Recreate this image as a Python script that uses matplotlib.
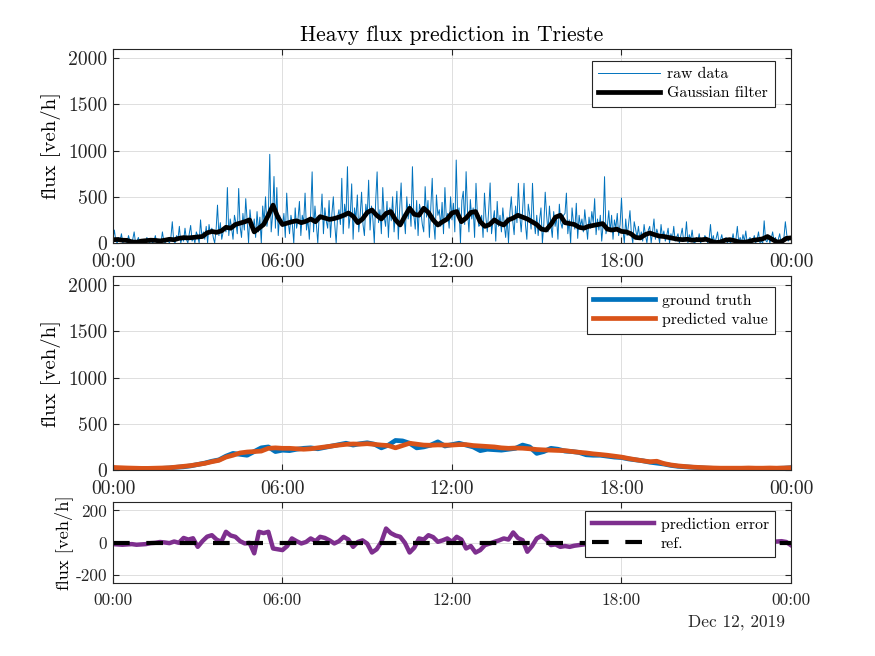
import numpy as np
import pandas as pd
import matplotlib
matplotlib.use("Agg")
import matplotlib.pyplot as plt
import matplotlib.dates as mdates

plt.rcParams.update({
    "font.family": "serif",
    "font.serif": ["cmr10", "DejaVu Serif"],
    "mathtext.fontset": "cm",
    "axes.unicode_minus": False,
    "axes.formatter.use_mathtext": False,
    "xtick.direction": "in",
    "ytick.direction": "in",
    "xtick.top": True,
    "ytick.right": True,
    "axes.edgecolor": "#262626",
    "xtick.color": "#262626",
    "ytick.color": "#262626",
    "axes.linewidth": 0.8,
})

BLUE = "#0072BD"
ORANGE = "#D95319"
PURPLE = "#7E2F8E"

# ---------------------------------------------------------------------------
# data (veh/h)
# ---------------------------------------------------------------------------
day_start = "2019-12-11 00:00"
day_end = "2019-12-12 00:00"

# raw heavy-vehicle flux, 3-minute samples (one row per hour)
raw_flux = [
    40, 140, 20, 0, 60, 20, 100, 0, 40, 20, 0, 80, 20, 0, 40, 120, 0, 20, 60, 0,
    0, 20, 40, 0, 60, 20, 0, 40, 0, 20, 80, 0, 20, 40, 0, 120, 20, 0, 40, 20,
    0, 60, 230, 20, 0, 80, 40, 180, 0, 60, 20, 160, 40, 0, 100, 190, 20, 60, 0, 120,
    80, 0, 250, 60, 120, 40, 180, 0, 200, 100, 160, 60, 0, 140, 410, 80, 220, 40, 120, 180,
    120, 600, 80, 260, 160, 40, 300, 220, 100, 590, 180, 60, 320, 140, 480, 240, 0, 360, 200, 120,
    260, 60, 340, 120, 280, 0, 400, 220, 500, 180, 300, 960, 120, 300, 720, 160, 600, 80, 300, 240,
    180, 320, 60, 540, 240, 100, 300, 200, 0, 380, 160, 260, 450, 80, 300, 220, 540, 140, 260, 40,
    340, 770, 120, 400, 200, 0, 300, 260, 530, 100, 380, 240, 160, 460, 60, 320, 500, 200, 0, 280,
    360, 200, 700, 100, 420, 280, 826, 160, 300, 640, 40, 380, 260, 520, 120, 300, 550, 200, 80, 420,
    300, 680, 140, 400, 260, 0, 460, 770, 220, 360, 100, 600, 280, 180, 450, 60, 380, 240, 500, 120,
    320, 560, 40, 380, 650, 200, 300, 100, 500, 260, 420, 180, 826, 300, 150, 460, 80, 420, 340, 200,
    120, 610, 280, 460, 60, 380, 700, 220, 40, 520, 300, 360, 180, 440, 100, 600, 260, 320, 160, 500,
    250, 430, 120, 898, 300, 380, 0, 460, 560, 200, 772, 340, 120, 470, 260, 380, 60, 646, 300, 180,
    200, 300, 60, 540, 280, 120, 360, 650, 100, 240, 350, 20, 450, 180, 300, 120, 380, 200, 60, 280,
    0, 330, 500, 240, 90, 400, 220, 646, 300, 120, 360, 646, 200, 40, 420, 310, 150, 646, 260, 100,
    300, 80, 250, 380, 0, 200, 550, 300, 120, 400, 200, 60, 340, 180, 280, 40, 420, 220, 160, 300,
    320, 540, 100, 250, 0, 380, 220, 150, 430, 50, 300, 180, 260, 120, 360, 200, 40, 280, 160, 340,
    220, 480, 90, 260, 140, 300, 20, 200, 718, 100, 180, 350, 120, 300, 40, 250, 160, 320, 80, 200,
    487, 150, 0, 260, 80, 200, 350, 100, 0, 230, 150, 60, 180, 40, 120, 20, 200, 80, 0, 140,
    180, 0, 120, 260, 40, 150, 90, 0, 200, 60, 130, 20, 80, 160, 0, 100, 40, 180, 20, 60,
    100, 0, 80, 160, 20, 50, 230, 0, 90, 30, 140, 10, 0, 60, 20, 100, 0, 40, 20, 80,
    60, 0, 40, 200, 10, 80, 0, 50, 120, 0, 30, 90, 0, 20, 60, 0, 40, 0, 20, 100,
    0, 40, 180, 10, 60, 0, 90, 20, 130, 0, 40, 60, 0, 20, 80, 0, 40, 120, 0, 20,
    0, 240, 30, 10, 80, 0, 50, 120, 20, 60, 0, 40, 100, 0, 20, 60, 230, 90, 20, 60,
]

# gaussian-filtered flux, 10-minute samples
filtered_flux = [
    35, 38, 30, 28, 12, 8,
    20, 25, 30, 28, 22, 30,
    40, 35, 50, 58, 55, 60,
    65, 70, 110, 125, 115, 130,
    170, 160, 200, 215, 230, 250,
    120, 160, 200, 300, 410, 280,
    200, 215, 230, 240, 220, 235,
    260, 230, 285, 270, 255, 265,
    280, 300, 325, 290, 220, 260,
    330, 357, 300, 260, 320, 340,
    250, 195, 290, 376, 310, 300,
    376, 330, 250, 195, 230, 260,
    325, 340, 230, 270, 330, 340,
    230, 180, 200, 250, 215, 195,
    250, 270, 300, 280, 260, 230,
    200, 150, 140, 200, 280, 300,
    220, 210, 200, 170, 160, 180,
    190, 200, 210, 150, 140, 150,
    125, 120, 100, 60, 55, 90,
    108, 90, 75, 70, 60, 50,
    40, 36, 40, 30, 36, 35,
    40, 20, 5, 10, 30, 36,
    25, 10, 8, 15, 30, 36,
    45, 70, 40, 10, 15, 50,
    55,
]

# ground truth and predicted flux, 15-minute samples
truth_flux = [
    20, 15, 10, 12, 15, 10, 12, 18, 22, 30, 35, 45,
    60, 75, 95, 110, 150, 180, 170, 160, 200, 240, 250, 200,
    215, 210, 225, 235, 240, 230, 245, 260, 275, 290, 270, 285,
    295, 280, 240, 270, 320, 315, 290, 240, 250, 270, 305, 260,
    275, 290, 270, 250, 210, 225, 220, 215, 225, 235, 270, 250,
    180, 200, 235, 225, 205, 200, 190, 165, 160, 160, 150, 140,
    135, 120, 110, 100, 85, 75, 65, 50, 40, 35, 30, 25,
    20, 18, 10, 8, 12, 15, 10, 10, 12, 15, 18, 20,
    25,
]
pred_flux = [
    28, 25, 22, 20, 18, 18, 20, 22, 25, 32, 40, 48,
    60, 72, 90, 105, 140, 160, 185, 195, 200, 205, 235, 240,
    235, 235, 230, 225, 230, 240, 250, 260, 270, 278, 282, 280,
    285, 278, 270, 265, 240, 265, 290, 280, 270, 268, 272, 270,
    270, 275, 275, 265, 260, 255, 250, 240, 235, 238, 236, 230,
    222, 218, 215, 212, 210, 200, 192, 185, 175, 168, 160, 150,
    140, 125, 112, 100, 90, 95, 70, 55, 45, 38, 32, 28,
    25, 22, 20, 20, 20, 20, 22, 20, 20, 22, 20, 22,
    25,
]

# prediction error, 10-minute samples
pred_error = [
    -8, -10, -12, -10, -8, -12,
    -10, -8, -2, 0, 5, 2,
    -2, 8, 0, 30, 20, 28,
    -25, 10, 38, 47, 20, 6,
    68, 45, 37, 10, -4, 0,
    -65, 68, 60, 68, -35, -40,
    -45, -20, 27, 10, -4, 5,
    27, 10, 37, 30, 15, -4,
    10, 37, 20, -25, 5, 15,
    -5, -60, -40, 5, 88, 60,
    45, 37, 0, -60, -30, 27,
    20, 47, 35, 6, 15, 27,
    6, 37, 20, -35, -20, -60,
    -45, -14, -5, 6, 15, 27,
    20, 64, 30, 16, -55, -20,
    27, 43, 20, -14, -10, -25,
    -20, -25, -18, -14, -10, -5,
    0, -15, 5, 10, -5, -10,
    -20, -10, 5, 15, 0, -10,
    -5, 10, 20, 5, -10, -5,
    0, -10, -5, 5, 0, -8,
    -5, 5, 10, 0, -5, 0,
    5, -5, -10, 0, 5, 0,
    -5, 0, 6, 8, 10, 5,
    -15,
]

t_raw = pd.date_range(day_start, periods=len(raw_flux), freq="3min")
t_filt = pd.date_range(day_start, day_end, periods=len(filtered_flux))
t_pred = pd.date_range(day_start, day_end, periods=len(truth_flux))
t_err = pd.date_range(day_start, day_end, periods=len(pred_error))

# ---------------------------------------------------------------------------
# figure
# ---------------------------------------------------------------------------
fig = plt.figure(figsize=(8.75, 6.56), dpi=100)
ax1 = fig.add_axes([0.1291, 0.6296, 0.7749, 0.2957])
ax2 = fig.add_axes([0.1291, 0.2835, 0.7749, 0.2957])
ax3 = fig.add_axes([0.1291, 0.1108, 0.7749, 0.1235])

ax1.plot(t_raw, raw_flux, color=BLUE, lw=0.7, label="raw data")
ax1.plot(t_filt, filtered_flux, color="black", lw=3.4, label="Gaussian filter")
ax1.set_title("Heavy flux prediction in Trieste", fontsize=15.5, pad=6)

ax2.plot(t_pred, truth_flux, color=BLUE, lw=3.4, label="ground truth")
ax2.plot(t_pred, pred_flux, color=ORANGE, lw=3.4, label="predicted value")

ax3.plot(t_err, pred_error, color=PURPLE, lw=3.2, label="prediction error")
ax3.plot([t_err[0], t_err[-1]], [0, 0], color="black", lw=3.0,
         ls=(0, (4, 4)), label="ref.")

for ax in (ax1, ax2):
    ax.set_ylim(0, 2100)
    ax.set_yticks([0, 500, 1000, 1500, 2000])
    ax.set_ylabel("flux [veh/h]", fontsize=15, labelpad=5)
    ax.tick_params(labelsize=14.2)
ax3.set_ylim(-250, 250)
ax3.set_yticks([-200, 0, 200])
ax3.set_ylabel("flux [veh/h]", fontsize=13.3, labelpad=2)
ax3.tick_params(labelsize=12.4)

for ax in (ax1, ax2, ax3):
    ax.set_xlim(pd.Timestamp(day_start), pd.Timestamp(day_end))
    ax.xaxis.set_major_locator(mdates.HourLocator(byhour=[0, 6, 12, 18]))
    ax.xaxis.set_major_formatter(mdates.DateFormatter("%H:%M"))
    ax.grid(True, color="#dfdfdf", lw=0.7)
    ax.set_axisbelow(True)
    ax.tick_params(length=4, width=0.8)
    ax.tick_params(axis="x", pad=7)
    ax.tick_params(axis="y", pad=4)

leg_kw = dict(fontsize=11.4, loc="upper right", fancybox=False, framealpha=1,
              edgecolor="#262626", handlelength=3.9, handletextpad=0.45,
              borderpad=0.42, labelspacing=0.3, borderaxespad=0)
ax1.legend(bbox_to_anchor=(0.976, 0.94), **leg_kw).get_frame().set_linewidth(0.8)
ax2.legend(bbox_to_anchor=(0.976, 0.943), **leg_kw).get_frame().set_linewidth(0.8)
ax3.legend(bbox_to_anchor=(0.977, 0.893), **leg_kw).get_frame().set_linewidth(0.8)

fig.text(0.897, 0.045, "Dec 12, 2019", fontsize=12.5, ha="right",
         color="#262626")

fig.savefig("out.png", dpi=100)
